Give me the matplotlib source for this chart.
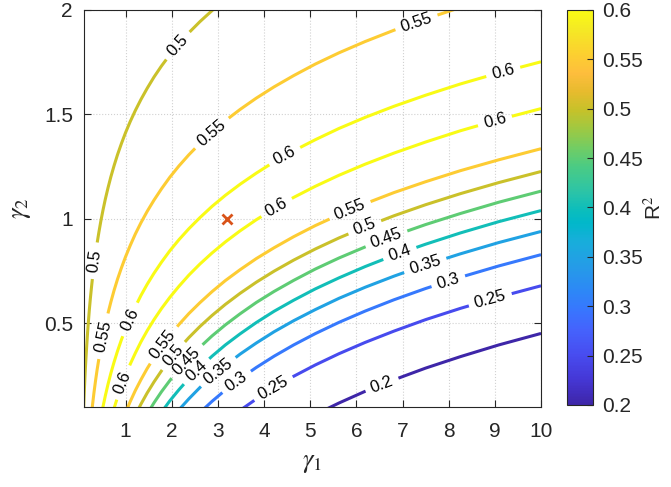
import numpy as np
import matplotlib
matplotlib.use('Agg')
import matplotlib.pyplot as plt
from matplotlib.contour import ContourSet
from matplotlib.colors import LinearSegmentedColormap, Normalize
from matplotlib.cm import ScalarMappable

# contour levels of R^2
levels = [0.2, 0.25, 0.3, 0.35, 0.4, 0.45, 0.5, 0.55, 0.6]

# gamma1 stations along which the contour lines were read
gamma1 = [0.0909, 0.1, 0.110, 0.121, 0.133, 0.147, 0.162, 0.178, 0.196, 0.215,
          0.237, 0.261, 0.287, 0.316, 0.348, 0.383, 0.422, 0.464, 0.511, 0.562,
          0.619, 0.681, 0.750, 0.825, 0.909, 1.0, 1.101, 1.212, 1.334, 1.468,
          1.616, 1.778, 1.957, 2.154, 2.371, 2.610, 2.873, 3.162, 3.481, 3.831,
          4.217, 4.642, 5.109, 5.623, 6.190, 6.813, 7.499, 8.254, 9.085, 10.0]

# gamma2 of each contour line, starting at gamma1[start]
start_020 = 42
g2_020 = [0.064, 0.119, 0.175, 0.230, 0.286, 0.341, 0.397, 0.452]

start_025 = 38
g2_025 = [0.084, 0.138, 0.192, 0.247, 0.301, 0.355, 0.409, 0.463, 0.518, 0.572,
          0.626, 0.680]

start_030 = 35
g2_030 = [0.073, 0.127, 0.181, 0.235, 0.289, 0.343, 0.397, 0.451, 0.505, 0.559,
          0.613, 0.667, 0.721, 0.775, 0.829]

start_035 = 33
g2_035 = [0.086, 0.139, 0.193, 0.246, 0.299, 0.353, 0.406, 0.460, 0.513, 0.566,
          0.620, 0.673, 0.726, 0.780, 0.833, 0.887, 0.940]

start_040 = 31
g2_040 = [0.075, 0.129, 0.182, 0.236, 0.289, 0.343, 0.397, 0.450, 0.504, 0.558,
          0.611, 0.665, 0.718, 0.772, 0.826, 0.879, 0.933, 0.987, 1.040]

start_045 = 29
g2_045 = [0.066, 0.120, 0.173, 0.226, 0.280, 0.333, 0.386, 0.440, 0.493, 0.546,
          0.600, 0.653, 0.706, 0.760, 0.813, 0.866, 0.920, 0.973, 1.026, 1.080,
          1.133]

start_050_lo = 27
g2_050_lo = [0.061, 0.114, 0.167, 0.220, 0.273, 0.326, 0.379, 0.432, 0.485, 0.538,
             0.591, 0.644, 0.697, 0.750, 0.803, 0.856, 0.909, 0.962, 1.015, 1.068,
             1.121, 1.174, 1.227]

start_055_lo = 25
g2_055_lo = [0.073, 0.126, 0.179, 0.231, 0.284, 0.336, 0.389, 0.442, 0.494, 0.547,
             0.599, 0.652, 0.705, 0.757, 0.810, 0.862, 0.915, 0.968, 1.020, 1.073,
             1.126, 1.178, 1.231, 1.283, 1.336]

start_060_lo = 22
g2_060_lo = [0.093, 0.146, 0.199, 0.252, 0.305, 0.358, 0.412, 0.465, 0.518, 0.571,
             0.624, 0.677, 0.731, 0.784, 0.837, 0.890, 0.943, 0.996, 1.049, 1.103,
             1.156, 1.209, 1.262, 1.315, 1.368, 1.422, 1.475, 1.528]

start_060_hi = 17
g2_060_hi = [0.048, 0.101, 0.154, 0.208, 0.261, 0.314, 0.367, 0.421, 0.474, 0.527,
             0.580, 0.634, 0.687, 0.740, 0.793, 0.847, 0.900, 0.953, 1.006, 1.060,
             1.113, 1.166, 1.219, 1.273, 1.326, 1.379, 1.433, 1.486, 1.539, 1.592,
             1.646, 1.699, 1.752]

start_055_hi = 11
g2_055_hi = [0.060, 0.115, 0.169, 0.223, 0.277, 0.331, 0.386, 0.440, 0.494, 0.548,
             0.602, 0.657, 0.711, 0.765, 0.819, 0.873, 0.928, 0.982, 1.036, 1.090,
             1.144, 1.199, 1.253, 1.307, 1.361, 1.415, 1.470, 1.524, 1.578, 1.632,
             1.686, 1.741, 1.795, 1.849, 1.903, 1.957, 2.012]

start_050_hi = 0
g2_050_hi = [0.087, 0.140, 0.193, 0.246, 0.299, 0.352, 0.405, 0.458, 0.511, 0.564,
             0.618, 0.671, 0.724, 0.777, 0.830, 0.883, 0.936, 0.989, 1.042, 1.095,
             1.148, 1.201, 1.254, 1.307, 1.360, 1.413, 1.466, 1.519, 1.572, 1.625,
             1.679, 1.732, 1.785, 1.838, 1.891, 1.944, 1.997, 2.050]

# best fit
opt_g1, opt_g2 = 3.2, 1.0

# where the contour labels sit
label_pos = [(2.13, 1.83), (0.33, 0.80),
             (2.86, 1.413), (0.51, 0.439), (7.3, 1.942),
             (4.45, 1.30), (1.087, 0.520), (9.18, 1.705),
             (0.94, 0.218), (4.27, 1.056), (9.0, 1.470),
             (1.81, 0.399), (5.86, 1.043),
             (2.03, 0.346), (6.18, 0.961),
             (2.32, 0.321), (6.65, 0.906),
             (2.53, 0.272), (6.94, 0.836),
             (3.0, 0.270), (7.49, 0.779),
             (3.4, 0.222), (7.99, 0.703),
             (4.2, 0.19), (8.9, 0.614),
             (6.55, 0.21)]

# parula colormap (sampled from the 64-entry table)
parula = LinearSegmentedColormap.from_list('parula', [
    (0 / 63, (0.2422, 0.1504, 0.6603)),
    (4 / 63, (0.2706, 0.2147, 0.8364)),
    (8 / 63, (0.2813, 0.3006, 0.9414)),
    (12 / 63, (0.2699, 0.3892, 0.9906)),
    (15 / 63, (0.2206, 0.4603, 0.9973)),
    (18 / 63, (0.1786, 0.5289, 0.9682)),
    (22 / 63, (0.1460, 0.6091, 0.9079)),
    (26 / 63, (0.0952, 0.6798, 0.8598)),
    (29 / 63, (0.0036, 0.7203, 0.7917)),
    (31 / 63, (0.0433, 0.7411, 0.7394)),
    (34 / 63, (0.1717, 0.7670, 0.6554)),
    (38 / 63, (0.2906, 0.7973, 0.5188)),
    (41 / 63, (0.4456, 0.8024, 0.3909)),
    (44 / 63, (0.6174, 0.7876, 0.2612)),
    (47 / 63, (0.7738, 0.7598, 0.1646)),
    (50 / 63, (0.9035, 0.7330, 0.1774)),
    (53 / 63, (0.9956, 0.7434, 0.2371)),
    (56 / 63, (0.9892, 0.8136, 0.1885)),
    (60 / 63, (0.9597, 0.9135, 0.1423)),
    (63 / 63, (0.9769, 0.9839, 0.0805)),
], N=256)

plt.rcParams['font.family'] = ['Liberation Sans', 'DejaVu Sans']
plt.rcParams['mathtext.fontset'] = 'stix'
dark = (0.15, 0.15, 0.15)


def seg(start, g2):
    return np.column_stack((gamma1[start:start + len(g2)], g2))


allsegs = [
    [seg(start_020, g2_020)],
    [seg(start_025, g2_025)],
    [seg(start_030, g2_030)],
    [seg(start_035, g2_035)],
    [seg(start_040, g2_040)],
    [seg(start_045, g2_045)],
    [seg(start_050_lo, g2_050_lo), seg(start_050_hi, g2_050_hi)],
    [seg(start_055_lo, g2_055_lo), seg(start_055_hi, g2_055_hi)],
    [seg(start_060_lo, g2_060_lo), seg(start_060_hi, g2_060_hi)],
]

fig = plt.figure(figsize=(6.71, 4.87), dpi=100)
ax = fig.add_axes([0.1252, 0.1643, 0.6811, 0.8152])
norm = Normalize(vmin=0.2, vmax=0.6)

cs = ContourSet(ax, np.array(levels), allsegs, cmap=parula, norm=norm,
                linewidths=2.2, zorder=2)
cs.clabel(fontsize=12, inline=True, inline_spacing=6, fmt='%g',
          colors='k', manual=label_pos)

ax.plot(opt_g1, opt_g2, 'x', color=(0.85, 0.325, 0.098), ms=7, mew=2, zorder=3)

ax.set_xlim(0.1, 10)
ax.set_ylim(0.1, 2)
ax.set_xticks(range(1, 11))
ax.set_yticks([0.5, 1, 1.5, 2])
ax.set_yticklabels(['0.5', '1', '1.5', '2'])
ax.grid(True, ls=':', color='0.82', lw=0.8)
ax.set_axisbelow(True)
ax.tick_params(direction='in', top=True, right=True, length=5, width=0.8,
               labelsize=15, colors=dark)
ax.tick_params(axis='x', pad=11)
ax.tick_params(axis='y', pad=8)
for s in ax.spines.values():
    s.set_color(dark)
    s.set_linewidth(0.8)
ax.set_xlabel(r'$\gamma_1$', fontsize=19, color=dark, labelpad=7)
ax.set_ylabel(r'$\gamma_2$', fontsize=19, color=dark, labelpad=8)

cax = fig.add_axes([0.8445, 0.1684, 0.0397, 0.8111])
cb = fig.colorbar(ScalarMappable(norm=norm, cmap=parula), cax=cax)
cb.set_ticks(levels)
cb.set_ticklabels(['%g' % v for v in levels])
cb.ax.tick_params(direction='in', length=4, width=0.8, labelsize=15,
                  colors=dark, pad=6)
cb.outline.set_edgecolor(dark)
cb.outline.set_linewidth(0.8)
cb.set_label(r'R$^2$', fontsize=15, color=dark, labelpad=1)

fig.savefig('out.png', dpi=100)
